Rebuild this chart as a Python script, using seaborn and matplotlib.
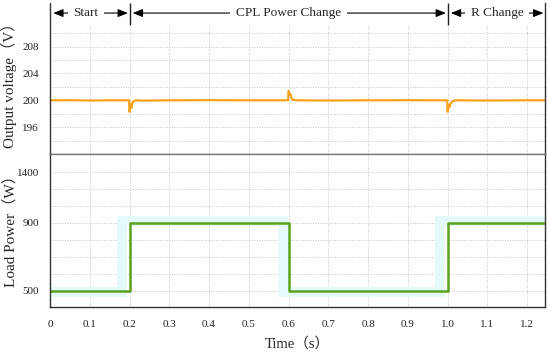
import numpy as np
import pandas as pd
import seaborn as sns
import matplotlib.pyplot as plt

# output voltage trace (key points)
v_time = [0.0, 0.05, 0.1, 0.15, 0.199, 0.2, 0.201, 0.203, 0.205, 0.207, 0.21, 0.215, 0.23,
          0.3, 0.4, 0.5, 0.599, 0.6, 0.601, 0.603, 0.605, 0.607, 0.61, 0.62,
          0.7, 0.8, 0.9, 0.999, 1.0, 1.001, 1.003, 1.005, 1.008, 1.012, 1.02, 1.1, 1.2, 1.245]
v_volt = [200.0, 200.02, 199.97, 200.0, 200.0, 198.3, 198.6, 199.4, 198.9, 199.6, 199.85, 200.0, 199.95,
          200.0, 200.03, 200.0, 200.0, 201.4, 201.3, 200.9, 200.9, 200.4, 200.1, 200.0,
          199.97, 200.0, 200.02, 200.0, 198.3, 198.6, 199.3, 199.0, 199.6, 199.85, 200.0, 199.97, 200.0, 200.0]

# load power steps
p_time = [0.0, 0.2, 0.6, 1.0, 1.245]
p_watt = [500, 900, 500, 900, 900]
# faint reference trace behind the power curve
ref_time = [0.0, 0.18, 0.587, 0.98, 1.245]
ref_watt = [495, 912, 495, 912, 912]

x_ticks = [0, 0.1, 0.2, 0.3, 0.4, 0.5, 0.6, 0.7, 0.8, 0.9, 1.0, 1.1, 1.2]
x_tick_labels = ['0', '0.1', '0.2', '0.3', '0.4', '0.5', '0.6', '0.7', '0.8', '0.9', '1.0', '1.1', '1.2']
v_ticks = [196, 200, 204, 208]
p_ticks = [500, 900, 1200]
p_tick_labels = ['500', '900', '1400']

segments = [(0.0, 0.2, 0.09, 'Start'), (0.2, 1.0, 0.6, 'CPL Power Change'), (1.0, 1.245, 1.125, 'R Change')]

sns.set_theme(style='white')
plt.rcParams['font.family'] = ['Liberation Serif', 'Noto Sans CJK SC']
plt.rcParams['axes.edgecolor'] = '#333333'

fig = plt.figure(figsize=(5.5, 3.56), dpi=100)
ax1 = fig.add_axes([0.0909, 0.5674, 0.9, 0.4242])
ax2 = fig.add_axes([0.0909, 0.1376, 0.9, 0.4298])

grid_kw = dict(color='#c8c8c8', linestyle=(0, (1, 1.5)), linewidth=0.7, zorder=0)

# top panel: voltage
vdf = pd.DataFrame({'t': v_time, 'v': v_volt})
sns.lineplot(data=vdf, x='t', y='v', ax=ax1, color='#F7A21B', linewidth=1.6,
             estimator=None, sort=False)
ax1.set_xlim(0, 1.245)
ax1.set_ylim(192, 214.5)
ax1.set_yticks(v_ticks)
for y in np.arange(194, 211, 2):
    ax1.axhline(y, **grid_kw)
ax1.vlines(x_ticks[1:], 192, 211.2, **grid_kw)
ax1.set_xticks([])
ax1.set_xlabel('')
ax1.set_ylabel('Output voltage（V）', fontsize=11)
ax1.spines['top'].set_visible(False)

# annotation band
ax1.vlines([0.2, 1.0], 211.2, 214.5, color='#222222', linewidth=1.0)
for x0, x1, xc, label in segments:
    ax1.annotate('', xy=(x0 + 0.008, 213.0), xytext=(x1 - 0.004, 213.0),
                 arrowprops=dict(arrowstyle='<|-|>,head_length=0.5,head_width=0.2',
                                 color='black', lw=0.8, shrinkA=0, shrinkB=0))
    ax1.text(xc, 213.0, label, ha='center', va='center', fontsize=9.5,
             bbox=dict(facecolor='white', edgecolor='none', pad=4))

# bottom panel: power
rdf = pd.DataFrame({'t': ref_time, 'p': ref_watt})
pdf = pd.DataFrame({'t': p_time, 'p': p_watt})
sns.lineplot(data=rdf, x='t', y='p', ax=ax2, color='#E4FAFA', linewidth=7,
             estimator=None, sort=False, drawstyle='steps-post', solid_joinstyle='miter')
sns.lineplot(data=pdf, x='t', y='p', ax=ax2, color='#5BA21C', linewidth=1.8,
             estimator=None, sort=False, drawstyle='steps-post')
ax2.set_xlim(0, 1.245)
ax2.set_ylim(405, 1306)
ax2.set_yticks(p_ticks)
ax2.set_yticklabels(p_tick_labels)
for y in range(500, 1300, 100):
    ax2.axhline(y, **grid_kw)
ax2.vlines(x_ticks[1:], 405, 1306, **grid_kw)
ax2.set_xticks(x_ticks)
ax2.set_xticklabels(x_tick_labels)
ax2.set_xlabel('Time（s）', fontsize=10.5, labelpad=6)
ax2.set_ylabel('Load Power（W）', fontsize=11)

for ax in (ax1, ax2):
    ax.tick_params(axis='both', labelsize=8, length=0, pad=8, colors='#222222')
    for s in ax.spines.values():
        s.set_linewidth(1.0)
ax2.tick_params(axis='x', pad=9)
ax1.spines['bottom'].set_color('#777777')
ax2.spines['top'].set_color('#777777')
ax1.yaxis.set_label_coords(-0.066, 0.48)
ax2.yaxis.set_label_coords(-0.066, 0.52)

fig.savefig('out.png', dpi=100)
